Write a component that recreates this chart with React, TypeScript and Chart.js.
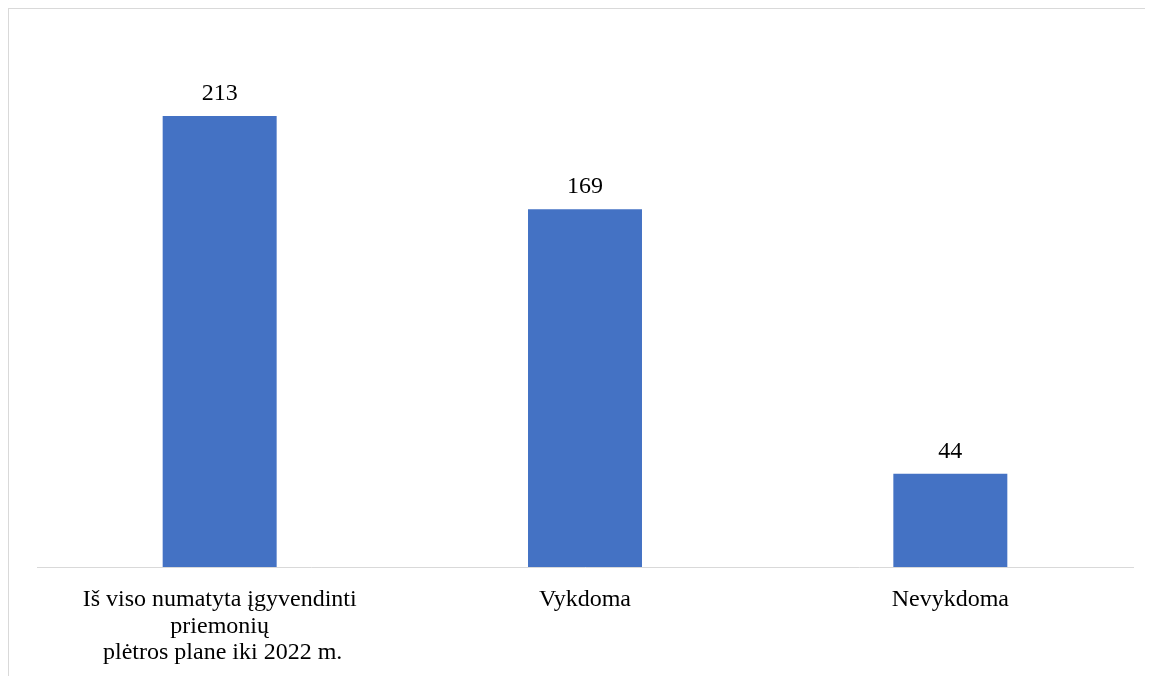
import React, { useEffect, useRef } from "react";
import { Chart, registerables } from "chart.js";

Chart.register(...registerables);

const categories: (string | string[])[] = [
  ["Iš viso numatyta įgyvendinti", "priemonių", " plėtros plane iki 2022 m."],
  "Vykdoma",
  "Nevykdoma",
];
const values: number[] = [213, 169, 44];
const yMax = 250;

const FONT = "'Liberation Serif', 'Times New Roman', serif";

const valueLabels = {
  id: "valueLabels",
  afterDatasetsDraw(chart: any) {
    const ctx = chart.ctx;
    const meta = chart.getDatasetMeta(0);
    ctx.save();
    ctx.font = `24px ${FONT}`;
    ctx.fillStyle = "#000000";
    ctx.textAlign = "center";
    ctx.textBaseline = "alphabetic";
    meta.data.forEach((el: any, i: number) => {
      ctx.fillText(String(values[i]), el.x, el.y - 16);
    });
    ctx.restore();
  },
};

const W = 1144;
const H = 667;

export default function App() {
  const ref = useRef<HTMLCanvasElement>(null);
  useEffect(() => {
    if (!ref.current) return;
    const chart = new Chart(ref.current, {
      type: "bar",
      data: {
        labels: categories,
        datasets: [
          {
            data: values,
            backgroundColor: "#4472C4",
            borderWidth: 0,
            barPercentage: 1,
            categoryPercentage: 0.312,
          },
        ],
      },
      options: {
        animation: false,
        responsive: false,
        maintainAspectRatio: false,
        layout: { padding: { left: 28, right: 20, top: 28.7, bottom: 9 } },
        plugins: { legend: { display: false }, tooltip: { enabled: false } },
        scales: {
          y: { display: false, min: 0, max: yMax },
          x: {
            grid: { display: false },
            border: { display: true, color: "#d9d9d9", width: 1 },
            ticks: {
              color: "#000000",
              font: { family: FONT, size: 24, lineHeight: 1.1 },
              maxRotation: 0,
              autoSkip: false,
              padding: 12,
            },
            afterFit: (axis: any) => {
              axis.height = 100;
            },
          },
        },
      },
      plugins: [valueLabels],
    });
    return () => chart.destroy();
  }, []);
  return (
    <div
      style={{
        width: W + 1,
        height: H + 1,
        overflow: "hidden",
        borderTop: "1px solid #d9d9d9",
        borderLeft: "1px solid #d9d9d9",
        boxSizing: "border-box",
        background: "#fff",
      }}
    >
      <canvas ref={ref} width={W} height={H} style={{ display: "block", width: W, height: H }} />
    </div>
  );
}
